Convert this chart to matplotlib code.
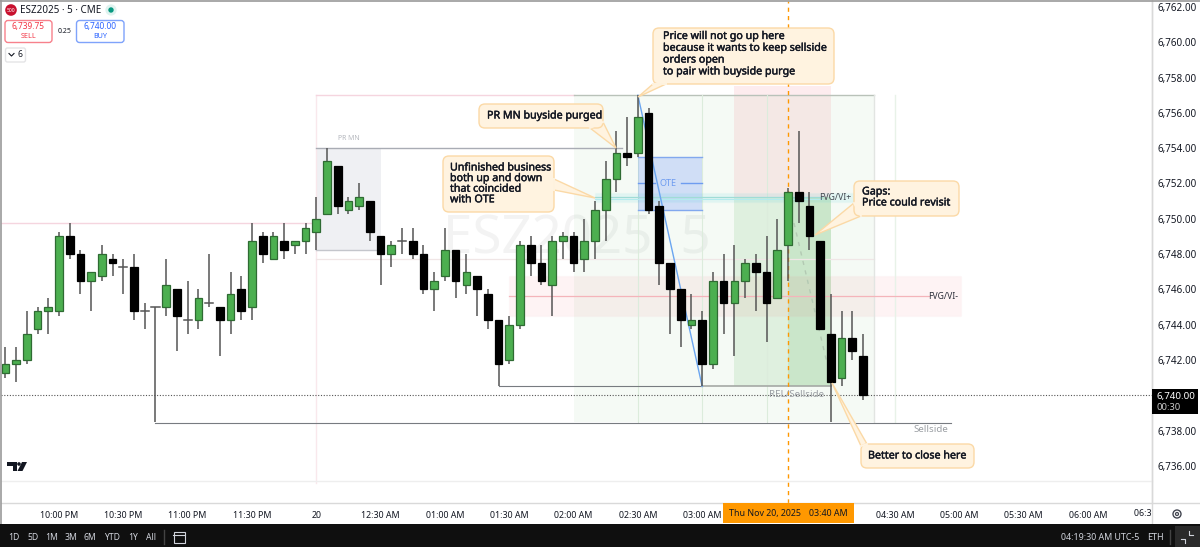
import matplotlib
matplotlib.use('Agg')
import matplotlib.pyplot as plt
import matplotlib.patheffects as pe
from matplotlib.patches import Rectangle, FancyBboxPatch, Polygon, Circle
from matplotlib.transforms import Bbox

plt.rcParams['font.family'] = ['Noto Sans', 'DejaVu Sans']

# 5 minute bars, bar 0 is 10:00 PM
bar_index = list(range(-5, 76))
opens = [6741.25,6741.75,6742.0,6743.75,6744.75,6744.75,6749.0,6748.0,6746.5,6746.75,
         6747.75,6747.25,6747.25,6744.75,6745.0,6745.0,6746.0,6744.25,6744.25,6745.25,
         6745.0,6744.25,6746.0,6745.0,6749.0,6747.75,6748.75,6748.5,6748.75,6749.25,
         6750.25,6753.0,6750.5,6750.75,6751.0,6749.0,6748.0,6748.75,6748.75,6748.0,
         6746.0,6746.75,6748.25,6746.25,6746.75,6745.75,6744.25,6742.0,6744.0,6748.5,
         6747.5,6746.25,6748.75,6749.0,6747.75,6748.75,6750.5,6752.25,6753.75,6753.75,
         6756.0,6750.75,6747.5,6746.0,6744.0,6744.25,6741.75,6746.5,6745.25,6746.5,
         6747.5,6747.0,6745.5,6748.5,6751.5,6750.75,6748.75,6743.5,6741.0,6743.25,6742.25]
highs = [6742.75,6742.75,6744.75,6745.0,6745.5,6749.25,6749.75,6748.25,6747.0,6748.5,
         6748.0,6747.75,6748.0,6745.25,6745.0,6747.75,6746.0,6746.5,6746.0,6748.0,
         6745.0,6747.0,6746.75,6749.75,6749.25,6749.25,6749.75,6748.75,6749.75,6751.25,
         6754.0,6753.0,6751.25,6752.0,6751.0,6749.0,6748.75,6749.5,6749.5,6748.5,
         6747.0,6749.5,6748.25,6748.0,6746.75,6746.0,6744.25,6744.5,6748.75,6749.0,
         6748.5,6749.0,6749.25,6749.25,6750.0,6751.0,6753.25,6755.0,6755.75,6757.0,
         6756.25,6751.0,6747.5,6746.0,6745.75,6744.75,6747.0,6748.0,6748.5,6747.75,
         6748.0,6749.0,6750.0,6751.75,6755.0,6751.5,6748.75,6745.75,6744.75,6744.75,6743.5]
lows = [6741.0,6740.75,6741.75,6743.5,6743.5,6744.5,6747.75,6745.75,6744.75,6746.5,
        6746.75,6745.75,6744.25,6743.75,6738.5,6744.5,6742.5,6743.5,6743.75,6745.0,
        6742.25,6743.5,6744.25,6744.25,6747.5,6747.75,6747.75,6748.0,6748.0,6748.25,
        6750.25,6750.25,6750.25,6750.5,6748.75,6746.25,6747.25,6748.0,6747.75,6745.75,
        6744.75,6746.5,6745.5,6745.75,6744.5,6743.75,6740.5,6741.75,6743.75,6746.75,
        6746.25,6744.5,6747.75,6747.0,6747.0,6747.75,6748.75,6751.5,6753.0,6753.5,
        6750.25,6746.25,6743.5,6742.75,6743.75,6740.5,6741.5,6743.5,6742.25,6745.5,
        6744.75,6743.0,6745.5,6746.5,6749.75,6748.25,6743.75,6738.5,6740.5,6742.0,6739.75]
closes = [6741.75,6742.0,6743.5,6744.75,6745.0,6749.0,6748.0,6746.5,6747.0,6748.0,
          6747.5,6747.25,6744.75,6744.75,6745.0,6746.25,6744.5,6744.25,6745.5,6745.25,
          6744.25,6745.75,6744.75,6748.75,6748.0,6749.0,6748.25,6748.75,6749.5,6750.0,
          6753.25,6750.75,6751.0,6751.25,6749.25,6748.0,6748.5,6748.75,6748.0,6746.0,
          6746.5,6748.25,6746.5,6747.0,6746.0,6744.25,6741.75,6744.0,6748.5,6747.5,
          6746.5,6748.75,6749.0,6747.5,6748.75,6750.5,6752.25,6753.75,6753.5,6755.75,
          6750.5,6747.5,6746.0,6744.25,6744.25,6741.75,6746.5,6745.25,6746.5,6747.5,
          6747.0,6745.25,6748.25,6751.5,6751.0,6749.0,6743.75,6740.75,6743.25,6742.5,6740.0]

price_ticks = [6736 + 2 * i for i in range(14)]
time_ticks = [0, 6, 12, 18, 24, 30, 36, 42, 48, 54, 60, 78, 84, 90, 96]
time_labels = ['10:00 PM', '10:30 PM', '11:00 PM', '11:30 PM', '20', '12:30 AM', '01:00 AM', '01:30 AM',
               '02:00 AM', '02:30 AM', '03:00 AM', '04:30 AM', '05:00 AM', '05:30 AM', '06:00 AM']
range_buttons = ['1D', '5D', '1M', '3M', '6M', 'YTD', '1Y', 'All']
range_x = [14, 33, 52, 71, 90, 112, 133, 151]

UP = '#4caf50'
UP_EDGE = '#2f6b33'
TXT = '#131722'
W, H = 1200, 547

fig = plt.figure(figsize=(12, 5.47), dpi=100, facecolor='white')
ax = fig.add_axes([1 / W, 1 - 503 / H, 1151 / W, 502 / H])
ax.set_xlim((1 - 59) / 10.72, (1152 - 59) / 10.72)
ax.set_ylim(6762 - 496 / 17.65, 6762 + 6 / 17.65)

# watermark
ax.text(48.3, 6748.85, 'ESZ2025, 5', color='#f3f3f3', fontsize=38, ha='center', va='center', zorder=0)

# long zones
ax.add_patch(Rectangle((48, 6738.5), 28, 18.5, fc=UP, alpha=0.055, ec='none', zorder=1))
ax.add_patch(Rectangle((24, 6748.25), 6, 5.75, fc='#eff0f3', ec='none', zorder=1))
ax.add_patch(Rectangle((63, 6740.5), 9.05, 10.75, fc=UP, alpha=0.13, ec='none', zorder=1.1))
ax.add_patch(Rectangle((68, 6740.5), 4.05, 10.75, fc=UP, alpha=0.14, ec='none', zorder=1.1))
ax.add_patch(Rectangle((63, 6751.25), 9.05, 6.25, fc='#f23645', alpha=0.09, ec='none', zorder=1.1))
ax.add_patch(Rectangle((42, 6744.5), 42.15, 2.25, fc='#f23645', alpha=0.06, ec='#f7cdd1', lw=0.8, zorder=1.2))

# thin lines
ax.plot([-6, 24], [6749.75, 6749.75], color='#f5d5df', lw=1, zorder=1.5)
ax.plot([24, 24], [6735.05, 6757], color='#f9e8ec', lw=1, zorder=1.5)
ax.plot([24, 48], [6757, 6757], color='#f5d5df', lw=1, zorder=1.5)
ax.plot([48, 76], [6757, 6757], color='#b9c2b9', lw=1, zorder=1.5)
ax.plot([24, 76], [6747.75, 6747.75], color='#f0e6e6', lw=0.9, zorder=1.5)
ax.plot([24, 52.5], [6754, 6754], color='#a9acb4', lw=1, zorder=1.5)
ax.plot([24, 30], [6748.25, 6748.25], color='#c4c6cc', lw=1, zorder=1.5)
for bar in [54, 60, 66]:
    ax.plot([bar, bar], [6738.5, 6757], color='#dcecdc', lw=0.8, zorder=1.5)
ax.plot([76, 76], [6738.5, 6757], color='#e2e5e2', lw=1, zorder=1.5)
ax.plot([78, 78], [6738.5, 6757], color='#e8f2e8', lw=1, zorder=1.5)
ax.plot([42, 81.2], [6745.6, 6745.6], color='#f4b4ba', lw=0.9, zorder=1.5)
ax.plot([9, 83.2], [6738.45, 6738.45], color='#777b80', lw=0.8, zorder=1.5)
ax.plot([41, 60], [6740.5, 6740.5], color='#777b80', lw=0.8, zorder=1.5)
ax.plot([60, 72], [6740.5, 6740.5], color='#a5a9a5', lw=1.2, zorder=1.5)
ax.plot([68.56, 71.64], [6749.76, 6741.83], color='#b3c9b3', lw=1, ls=(0, (3, 4)), zorder=1.5)

# OTE fib
ax.add_patch(Rectangle((54, 6750.5), 6, 3, fc='#2962ff', alpha=0.18, ec='none', zorder=1.6))
ax.plot([54, 60], [6753.5, 6753.5], color='#82a8ee', lw=1, zorder=1.7)
ax.plot([54, 60], [6750.5, 6750.5], color='#82a8ee', lw=1, zorder=1.7)
ax.plot([54, 55.6], [6752, 6752], color='#6e9cf0', lw=1, zorder=1.7)
ax.plot([58.0, 60], [6752, 6752], color='#6e9cf0', lw=1, zorder=1.7)
ax.text(56.8, 6752, 'OTE', color='#6e9cf0', fontsize=6.5, ha='center', va='center', zorder=1.7)

# cyan gap
ax.add_patch(Rectangle((50, 6750.93), 24.15, 0.55, fc='#00bcd4', alpha=0.08, ec='#b4ebee', lw=0.8, zorder=1.8))
ax.plot([50, 71.2], [6751.25, 6751.25], color='#a0dcd6', lw=0.9, zorder=1.8)
ax.plot([50, 71.2], [6751.1, 6751.1], color='#b4ebee', lw=0.8, zorder=1.8)

# trend line
ax.plot([54, 60], [6757, 6740.5], color='#6aa5f0', lw=1, zorder=1.9)

# crosshair and last price
ax.axvline(68, color='#ff9800', lw=1, ls=(0, (3, 3)), zorder=2)
ax.axhline(closes[-1], color='#555555', lw=0.8, ls=(0, (1, 1.5)), zorder=2)

# candles
ax.vlines(bar_index, lows, highs, color='#555555', lw=1.1, zorder=3)
for i, o, c in zip(bar_index, opens, closes):
    if c > o:
        ax.bar(i, c - o, 0.72, o, color=UP, edgecolor=UP_EDGE, lw=0.9, zorder=4)
    elif c < o:
        ax.bar(i, o - c, 0.72, c, color='black', edgecolor='black', lw=0.9, zorder=4)
    else:
        ax.plot([i - 0.38, i + 0.38], [o, o], color='#555555', lw=1.1, zorder=4)

# small labels on the chart
ax.text(27, 6754.55, 'PR MN', color='#b4b7bd', fontsize=5, ha='center', va='center', zorder=3)
ax.text(68.75, 6740.05, 'REL/Sellside', color='#9a9ea3', fontsize=7, ha='center', va='center', zorder=5)
ax.text(81.3, 6738.05, 'Sellside', color='#9a9ea3', fontsize=7, ha='center', va='center', zorder=5)
ax.text(72.4, 6751.2, 'FVG/VI+', color='#42474f', fontsize=6.2, ha='center', va='center', zorder=5)
ax.text(82.5, 6745.6, 'FVG/VI-', color='#2a2e39', fontsize=6.2, ha='center', va='center', zorder=5)

# axes
for side in ['top', 'left', 'bottom']:
    ax.spines[side].set_visible(False)
ax.spines['right'].set_color('#d9d9d9')
ax.spines['right'].set_linewidth(1)
ax.yaxis.tick_right()
ax.set_yticks(price_ticks)
# the last price tag stands in for the 6,740.00 label
ax.set_yticklabels(['' if p == 6740 else f'{p:,.2f}' for p in price_ticks], fontsize=7.1, color=TXT)
ax.tick_params(axis='y', length=0, pad=4.2)
ax.set_xticks(time_ticks)
ax.set_xticklabels(time_labels, fontsize=6.4, color=TXT)
ax.tick_params(axis='x', length=0, pad=5.5)
ax.get_xticklabels()[4].set_fontweight('bold')
ax.patch.set_alpha(0)

# overlay in screen pixels for callouts and chrome
ov = fig.add_axes([0, 0, 1, 1], zorder=5)
ov.set_xlim(0, W)
ov.set_ylim(H, 0)
ov.axis('off')
ov.patch.set_alpha(0)

BOX_FC = '#fff3e0'
BOX_EC = '#fbd9a6'


def callout(x0, y0, x1, y1, tail, lines, tx, ty, step):
    ov.add_patch(Polygon(tail, closed=True, fc=BOX_FC, ec=BOX_EC, lw=1, zorder=6))
    ov.add_patch(FancyBboxPatch((x0 + 5, y0 + 5), x1 - x0 - 10, y1 - y0 - 10,
                                boxstyle='round,pad=5,rounding_size=6',
                                fc=BOX_FC, ec=BOX_EC, lw=1, zorder=6, mutation_aspect=1))
    # hide the seam between tail and box
    ov.plot([tail[0][0], tail[1][0]], [tail[0][1], tail[1][1]], color=BOX_FC, lw=1.4, zorder=6.1)
    for k, line in enumerate(lines):
        t = ov.text(tx, ty + k * step, line, fontsize=7.7, color='#131722',
                    ha='left', va='center', zorder=7)
        t.set_path_effects([pe.withStroke(linewidth=0.3, foreground='#131722')])


callout(653, 28, 834, 84, [(653, 84), (666, 84), (638, 97)],
        ['Price will not go up here', 'because it wants to keep sellside', 'orders open', 'to pair with buyside purge'],
        663, 36.5, 11.8)
callout(479, 104, 603, 128, [(590, 128), (603, 122), (616, 148)], ['PR MN buyside purged'], 487, 116, 12)
callout(443, 156, 554, 212, [(554, 179), (554, 190), (595, 198)],
        ['Unfinished business', 'both up and down', 'that coincided', 'with OTE'], 450, 168, 10.6)
callout(854, 181, 959, 216, [(854, 203), (861, 216), (815, 235)], ['Gaps:', 'Price could revisit'], 862, 192, 11)
callout(861, 444, 974, 468, [(861, 446), (867, 444), (832, 383)], ['Better to close here'], 868, 456, 12)

# header top left
ov.plot([0, W], [0.5, 0.5], color='#9a9a9a', lw=1.2, zorder=8)
ov.plot([0.5, 0.5], [0, 524], color='#9a9a9a', lw=1.2, zorder=8)
ov.add_patch(Circle((11, 10), 5.8, fc='#c8102e', ec='none', zorder=8))
ov.text(11, 10.2, '500', color='white', fontsize=3.6, ha='center', va='center', fontweight='bold', zorder=9)
ov.text(20, 10.2, 'ESZ2025 · 5 · CME', color=TXT, fontsize=7.1, ha='left', va='center', zorder=9)
ov.add_patch(Circle((111, 10), 5.6, fc='#dff3ef', ec='none', zorder=8))
ov.add_patch(Circle((111, 10), 2.7, fc='#089981', ec='none', zorder=9))
ov.add_patch(FancyBboxPatch((7, 22.5), 43, 18, boxstyle='round,pad=2,rounding_size=3', fc='white', ec='#f7818c', lw=1, zorder=8))
ov.text(28.5, 26.8, '6,739.75', color='#f23645', fontsize=6, ha='center', va='center', zorder=9)
ov.text(28.5, 36.2, 'SELL', color='#f23645', fontsize=5.2, ha='center', va='center', zorder=9)
ov.text(64.5, 31.5, '0.25', color=TXT, fontsize=5, ha='center', va='center', zorder=9)
ov.add_patch(FancyBboxPatch((78.5, 22.5), 43.5, 18, boxstyle='round,pad=2,rounding_size=3', fc='white', ec='#7fa3fb', lw=1, zorder=8))
ov.text(100.5, 26.8, '6,740.00', color='#2962ff', fontsize=6, ha='center', va='center', zorder=9)
ov.text(100.5, 36.2, 'BUY', color='#2962ff', fontsize=5.2, ha='center', va='center', zorder=9)
ov.add_patch(FancyBboxPatch((6.5, 49), 18, 12, boxstyle='round,pad=1,rounding_size=2', fc='white', ec='#e4e4e6', lw=1, zorder=8))
ov.plot([9, 11.5, 14], [53.5, 56, 53.5], color=TXT, lw=0.8, zorder=9)
ov.text(20, 54.8, '6', color=TXT, fontsize=6.2, ha='center', va='center', zorder=9)

# tradingview logo
ov.add_patch(Polygon([(7, 462), (17, 462), (17, 471), (12.5, 471), (12.5, 465.5), (7, 465.5)], fc='#131722', ec='none', zorder=9))
ov.add_patch(Circle((19, 464), 1.8, fc='#131722', ec='none', zorder=9))
ov.add_patch(Polygon([(22, 462), (27, 462), (22.5, 471), (17.5, 471)], fc='#131722', ec='none', zorder=9))

# separators of the chart pane
ov.plot([1, 1152], [481, 481], color='#eeeeee', lw=1, zorder=1)
ov.plot([1, 1200], [503, 503], color='#d9d9d9', lw=1, zorder=2)
ov.plot([1152, 1152], [0, 524], color='#d9d9d9', lw=1, zorder=2)

# clipped tick at the end of the time axis
last = ov.text(1153, 513.3, '06:30 AM', fontsize=6.4, color=TXT, ha='center', va='center', zorder=3)
last.set_clip_box(Bbox([[0, 0], [1151, 547]]))
last.set_clip_on(True)

# crosshair labels
ov.add_patch(Rectangle((723, 503), 131, 19.5, fc='#ff9800', ec='none', zorder=8))
ov.text(765, 513.3, 'Thu Nov 20, 2025', fontsize=6.4, color=TXT, ha='center', va='center', zorder=9)
ov.text(828.5, 513.3, '03:40 AM', fontsize=6.4, color=TXT, ha='center', va='center', zorder=9)

# last price tag
ov.add_patch(Rectangle((1152, 389), 46, 25, fc='black', ec='none', zorder=8))
ov.text(1176, 396.8, '6,740.00', fontsize=7, color='white', ha='center', va='center', zorder=9)
ov.text(1168.5, 407, '00:30', fontsize=6.8, color='#c9c9c9', ha='center', va='center', zorder=9)

# gear
ov.add_patch(Circle((1177, 514), 4, fc='none', ec='#434651', lw=1, zorder=9))
ov.add_patch(Circle((1177, 514), 1.5, fc='none', ec='#434651', lw=0.9, zorder=9))

# dark strip at the bottom
ov.add_patch(Rectangle((0, 524), W, 23, fc='#0f0f0f', ec='none', zorder=8))
for label, x in zip(range_buttons, range_x):
    ov.text(x, 537.5, label, color='#d1d4dc', fontsize=6.2, ha='center', va='center', zorder=9)
ov.plot([163.5, 163.5], [530, 544], color='#434343', lw=1, zorder=9)
ov.add_patch(Rectangle((173.5, 531.5), 11, 11.5, fc='none', ec='#d1d4dc', lw=0.8, zorder=9))
ov.plot([173, 185], [535, 535], color='#d1d4dc', lw=0.8, zorder=9)
ov.text(1139, 537.5, '04:19:30 AM UTC-5', color='#d1d4dc', fontsize=6.4, ha='right', va='center', zorder=9)
ov.text(1155, 537.5, 'ETH', color='#d1d4dc', fontsize=6.4, ha='center', va='center', zorder=9)
ov.plot([1169.5, 1169.5], [530, 544], color='#434343', lw=1, zorder=9)
ov.add_patch(Rectangle((1175, 526), 25, 21, fc='#2a2a2a', ec='none', zorder=9))
ov.plot([1181, 1185, 1185], [539, 539, 543], color='#d1d4dc', lw=0.8, zorder=10)
ov.plot([1189, 1189, 1193], [531, 535, 535], color='#d1d4dc', lw=0.8, zorder=10)

fig.savefig('out.png', dpi=100)
